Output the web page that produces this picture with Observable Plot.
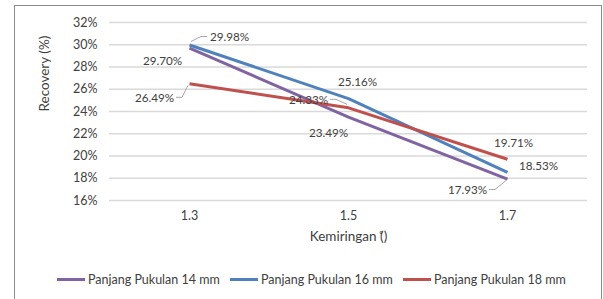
<!DOCTYPE html>
<html>
<head>
<meta charset="utf-8">
<script src="https://cdn.jsdelivr.net/npm/d3@7"></script>
<script src="https://cdn.jsdelivr.net/npm/@observablehq/plot@0.6"></script>
<style>
  html, body { margin: 0; padding: 0; background: #fff; }
  #frame { position: absolute; left: 14px; top: 5px; width: 588px; height: 310px;
           border: 1.5px solid #8c8c8c; border-bottom: none; box-sizing: border-box; }
  #chart { position: absolute; left: 0; top: 0; }
  #legend { position: absolute; left: 0; top: 271px; width: 603px; height: 16px;
            font: 12.5px Lato, "Liberation Sans", sans-serif; color: #404040; }
  .item { position: absolute; top: 0; display: flex; align-items: center; height: 16px; }
  .sw { width: 28px; height: 3px; margin-right: 3px; }
</style>
</head>
<body>
<div id="frame"></div>
<div id="chart"></div>
<div id="legend"></div>
<script>
// ---- data ----
const categories = ["1.3", "1.5", "1.7"];
const seriesNames = ["Panjang Pukulan 14 mm", "Panjang Pukulan 16 mm", "Panjang Pukulan 18 mm"];
const recovery14 = [29.70, 23.49, 17.93];
const recovery16 = [29.98, 25.16, 18.53];
const recovery18 = [26.49, 24.33, 19.71];
const yTicks = [16, 18, 20, 22, 24, 26, 28, 30, 32];

// ---- styling / placement (pixels) ----
const colors = ["#8064a2", "#4f81bd", "#c0504d"];
const labelOffsets = [
  [[-27, 13], [-20, 16], [-40, 11]],   // 14 mm
  [[40, -8], [9, -16], [31, -6]],      // 16 mm
  [[-35, 14], [-40, -8], [6, -16]]     // 18 mm
];
// leader lines: [seriesIndex, categoryIndex, side of label facing point]
const leaders = [[1, 0, "left"], [2, 0, "right"], [2, 1, "right"], [0, 2, "right"]];

const allSeries = [recovery14, recovery16, recovery18];
const rows = allSeries.flatMap((vals, s) =>
  vals.map((v, i) => ({series: seriesNames[s], s, i, cat: categories[i], value: v})));

const font = "Lato, 'Liberation Sans', sans-serif";
const textColor = "#404040";

const marks = [
  Plot.gridY(yTicks, {stroke: "#d9d9d9", strokeOpacity: 1, strokeWidth: 1.4}),
  Plot.axisY({ticks: yTicks, tickSize: 0, tickPadding: 12, tickFormat: d => d + "%",
              label: null, fill: textColor, fontSize: 12.5}),
  Plot.axisX({tickSize: 0, tickPadding: 11, label: null, fill: textColor, fontSize: 12.5}),
  Plot.line(rows, {x: "cat", y: "value", z: "series", stroke: d => colors[d.s],
                   strokeWidth: 3, strokeLinejoin: "round", strokeLinecap: "butt"}),
  // leader lines via library scales
  (index, scales) => {
    const g = d3.create("svg:g");
    for (const [s, i, side] of leaders) {
      const px = scales.x(categories[i]), py = scales.y(allSeries[s][i]);
      const [dx, dy] = labelOffsets[s][i];
      const edgeX = px + dx + (side === "left" ? -22 : 22);
      const midX = edgeX + (side === "left" ? -6 : 6);
      const endX = px + (side === "left" ? 2 : -1);
      const endY = py + (dy < 0 ? -3 : 2);
      g.append("path")
        .attr("d", `M${edgeX},${py + dy}L${midX},${py + dy}L${endX},${endY}`)
        .attr("fill", "none").attr("stroke", "#a6a6a6").attr("stroke-width", 1);
    }
    return g.node();
  }
];
rows.forEach(d => {
  const [dx, dy] = labelOffsets[d.s][d.i];
  marks.push(Plot.text([d], {x: "cat", y: "value", text: r => r.value.toFixed(2) + "%",
    dx, dy, fill: textColor, fontSize: 11.7}));
});
marks.push(Plot.text(["Recovery (%)"], {frameAnchor: "left", text: d => d, rotate: -90,
  dx: -65, fill: textColor, fontSize: 13.5}));
marks.push(Plot.text(["Kemiringan (\u030A)"], {frameAnchor: "bottom", text: d => d,
  dy: 40, fill: textColor, fontSize: 13.5}));

const plot = Plot.plot({
  width: 603, height: 262,
  marginLeft: 109, marginRight: 16, marginTop: 22, marginBottom: 62,
  style: {fontFamily: font, background: "transparent", overflow: "visible"},
  x: {type: "point", domain: categories, padding: 0.5},
  y: {domain: [16, 32]},
  marks
});
document.getElementById("chart").appendChild(plot);

// legend
const legendX = [57, 230, 403];
const legend = document.getElementById("legend");
seriesNames.forEach((name, k) => {
  const it = document.createElement("div");
  it.className = "item";
  it.style.left = legendX[k] + "px";
  it.innerHTML = `<span class="sw" style="background:${colors[k]}"></span><span>${name}</span>`;
  legend.appendChild(it);
});
</script>
</body>
</html>
